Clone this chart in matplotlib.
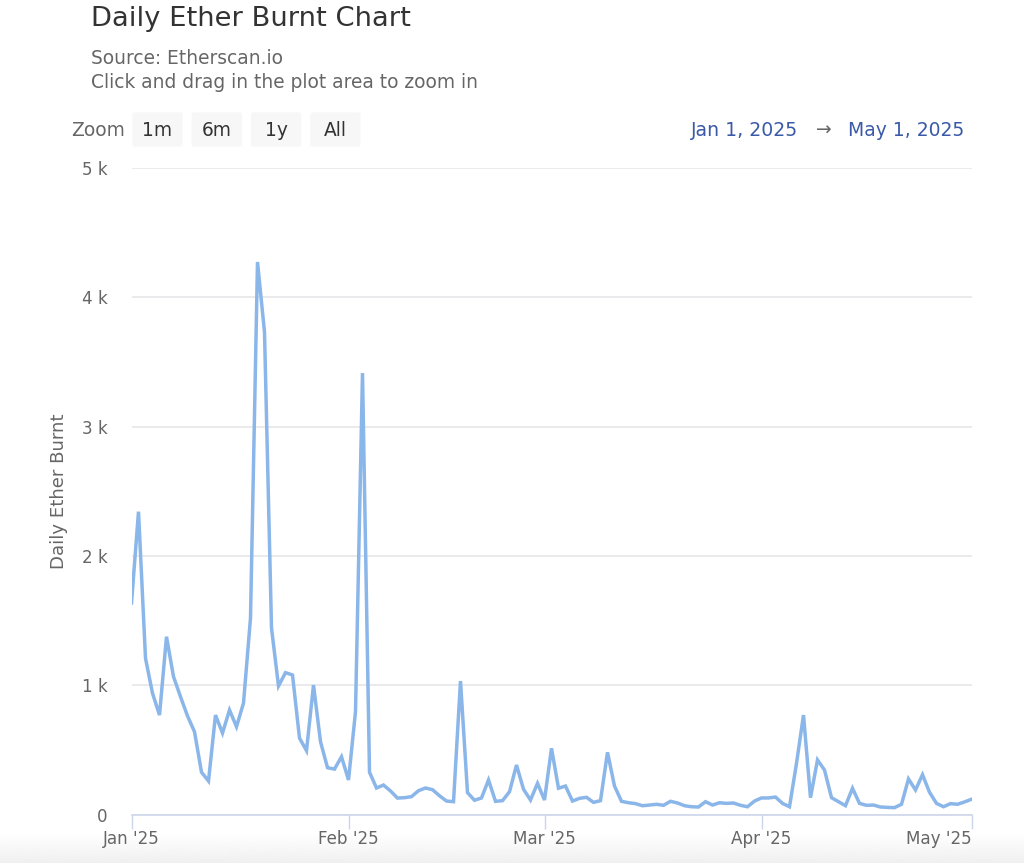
import datetime

import matplotlib
matplotlib.use("Agg")
import matplotlib.dates as mdates
import matplotlib.pyplot as plt
import numpy as np
from matplotlib.patches import FancyBboxPatch

W, H = 1024, 863

# Daily burn, Jan 1 to May 1 2025
burnt = [
    1636, 2342, 1208, 938, 769, 1375, 1066, 911, 762, 640,
    327, 259, 769, 630, 808, 679, 862, 1520, 4273, 3730,
    1442, 994, 1097, 1079, 591, 494, 1001, 563, 362, 351,
    447, 267, 795, 3414, 327, 205, 228, 182, 127, 130,
    138, 184, 205, 192, 145, 104, 99, 1032, 169, 110,
    128, 267, 102, 107, 176, 383, 195, 112, 241, 112,
    512, 203, 220, 104, 125, 133, 94, 107, 481, 220,
    102, 91, 84, 68, 73, 79, 71, 102, 89, 68,
    60, 58, 99, 73, 91, 86, 89, 71, 60, 104,
    128, 128, 135, 86, 60, 396, 769, 130, 422, 344,
    130, 99, 68, 203, 86, 71, 73, 58, 55, 53,
    79, 275, 190, 308, 172, 86, 60, 84, 79, 97,
    118,
]
dates = [datetime.date(2025, 1, 1) + datetime.timedelta(days=i) for i in range(len(burnt))]

y_ticks = [0, 1000, 2000, 3000, 4000, 5000]
y_labels = ["0", "1 k", "2 k", "3 k", "4 k", "5 k"]
x_ticks = [datetime.date(2025, m, 1) for m in range(1, 6)]
x_labels = ["Jan '25", "Feb '25", "Mar '25", "Apr '25", "May '25"]
zoom_buttons = ["1m", "6m", "1y", "All"]

plt.rcParams['font.family'] = ['DejaVu Sans']

fig = plt.figure(figsize=(W / 100, H / 100), dpi=100, facecolor="white")


def fx(px):
    return px / W


def fy(py):
    return 1 - py / H


# faint grey band along the bottom edge of the screenshot
bg = fig.add_axes([0, 0, 1, 30 / H], zorder=0)
bg.imshow(np.linspace(1, 0, 30).reshape(-1, 1), aspect="auto", cmap="gray",
          vmin=-16, vmax=1)
bg.axis("off")

ax = fig.add_axes([fx(131.5), fy(814.5), fx(840), (814.5 - 168) / H], zorder=1)
ax.patch.set_alpha(0)
ax.plot(dates, burnt, color="#8ab6e9", lw=2.5, solid_joinstyle="miter", zorder=3)
ax.set_xlim(dates[0], dates[-1])
ax.set_ylim(0, 5000)

ax.set_yticks(y_ticks)
ax.set_yticklabels(y_labels)
ax.set_xticks(x_ticks)
ax.set_xticklabels(x_labels)

ax.grid(axis="y", color="#e8e8ec", lw=1.3)
ax.set_axisbelow(True)
for s in ["top", "left", "right"]:
    ax.spines[s].set_visible(False)
ax.spines["bottom"].set_color("#ccd6eb")
ax.spines["bottom"].set_linewidth(1.2)

ax.tick_params(axis="y", length=0, pad=17, labelsize=12.1, labelcolor="#666666")
ax.tick_params(axis="x", length=10, width=1.0, color="#ccd6eb", pad=1,
               labelsize=12.1, labelcolor="#666666")
# the last label stays inside the plot's right edge
ax.get_xticklabels()[-1].set_horizontalalignment("right")
ax.get_xticklabels()[-1].set_x(mdates.date2num(x_ticks[-1]))

fig.text(fx(58.5), fy(491), "Daily Ether Burnt", rotation=90, color="#666666",
         fontsize=13.1, ha="center", va="center")

fig.text(fx(91), fy(19), "Daily Ether Burnt Chart", color="#333333", fontsize=19.7,
         ha="left", va="center")
fig.text(fx(91), fy(58), "Source: Etherscan.io", color="#666666", fontsize=13.45,
         ha="left", va="center")
fig.text(fx(91), fy(82), "Click and drag in the plot area to zoom in", color="#666666",
         fontsize=13.45, ha="left", va="center")

fig.text(fx(71), fy(130), "Zoom", color="#666666", fontsize=13.4, ha="left", va="center")
for i, name in enumerate(zoom_buttons):
    left = 132 + i * 59.3
    fig.add_artist(FancyBboxPatch((fx(left + 1), fy(146)), fx(49), 33 / H,
                                  boxstyle="round,pad=0,rounding_size=0.002",
                                  transform=fig.transFigure, fc="#f7f7f7", ec="#f7f7f7",
                                  lw=1))
    fig.text(fx(left + 25.5), fy(130), name, color="#333333", fontsize=13.4,
             ha="center", va="center")

fig.text(fx(798), fy(130), "Jan 1, 2025", color="#3a5aa8", fontsize=13.6, ha="right", va="center")
fig.text(fx(824), fy(130), "→", color="#666666", fontsize=13.5, ha="center", va="center")
fig.text(fx(964), fy(130), "May 1, 2025", color="#3a5aa8", fontsize=13.5, ha="right", va="center")

fig.savefig("out.png", dpi=100)
